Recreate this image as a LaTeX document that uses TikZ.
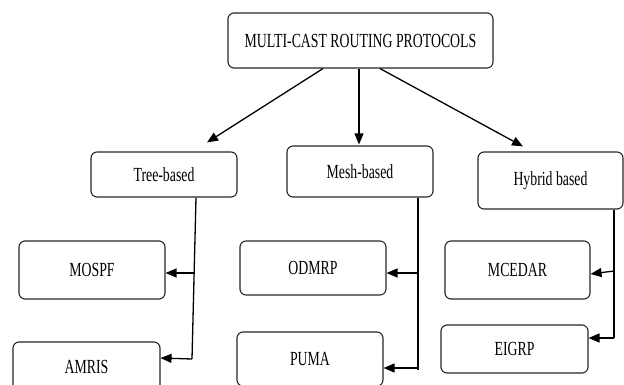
\documentclass[tikz,border=0pt]{standalone}
\usepackage{fontspec}
\setmainfont{Liberation Serif}[FakeStretch=0.69]
\usetikzlibrary{arrows.meta}
\tikzset{
  box/.style={draw=black!85, line width=1.1pt, rounded corners=6pt,
    inner sep=0pt, anchor=center, align=center,
    font=\fontsize{20}{22}\selectfont},
  link/.style={draw=black, line width=1.3pt},
  arr/.style={link, -{Triangle[length=11pt,width=9pt]}}
}
\begin{document}
\begin{tikzpicture}[x=1pt,y=-1pt]
\useasboundingbox (0,0) rectangle (624,385);

% root
\node[box, minimum width=265pt, minimum height=55pt] (root) at (360.5,40.5) {MULTI-CAST ROUTING PROTOCOLS};

% classes
\node[box, minimum width=146pt, minimum height=45pt] (tree) at (164,174.5) {Tree-based};
\node[box, minimum width=146pt, minimum height=51pt] (mesh) at (360,171.5) {Mesh-based};
\node[box, minimum width=145pt, minimum height=57pt] (hyb) at (550.5,180.5) {Hybrid based};

% protocols
\node[box, minimum width=146pt, minimum height=58pt] (mospf) at (92,270) {MOSPF};
\node[box, minimum width=147pt, minimum height=50pt] (amris) at (86.5,367) {AMRIS};
\node[box, minimum width=146pt, minimum height=54pt] (odmrp) at (313,268) {ODMRP};
\node[box, minimum width=146pt, minimum height=54pt] (puma) at (310,359) {PUMA};
\node[box, minimum width=145pt, minimum height=58pt] (mcedar) at (517.5,270) {MCEDAR};
\node[box, minimum width=147pt, minimum height=48pt] (eigrp) at (514.5,349) {EIGRP};

% root to classes
\draw[arr] ([xshift=-37.5pt]root.south) -- ([xshift=43pt,yshift=9pt]tree.north);
\draw[arr] ([xshift=-1.5pt]root.south) -- ([xshift=-1pt,yshift=1pt]mesh.north);
\draw[arr] ([xshift=19.5pt]root.south) -- ([xshift=-27.5pt,yshift=5pt]hyb.north);

% tree-based branch
\coordinate (tA) at ([xshift=32pt]tree.south);
\coordinate (tB) at (192,359);
\draw[link] (tA) -- (tB);
\draw[arr] (194,273) -- ([yshift=-3pt]mospf.east);
\draw[arr] (tB) -- ([yshift=9pt]amris.east);

% mesh-based branch
\coordinate (mA) at ([xshift=58pt]mesh.south);
\coordinate (mB) at (418,370);
\draw[link] (mA) -- (mB);
\draw[arr] (418,273) -- ([yshift=-5pt]odmrp.east);
\draw[arr] (418,368) -- ([yshift=-9pt]puma.east);

% hybrid branch
\coordinate (hA) at ([xshift=63.5pt]hyb.south);
\coordinate (hB) at (614,338);
\draw[link] (hA) -- (hB);
\draw[arr] (614,271) -- ([yshift=-4pt]mcedar.east);
\draw[arr] (hB) -- ([yshift=11pt]eigrp.east);
\end{tikzpicture}
\end{document}
